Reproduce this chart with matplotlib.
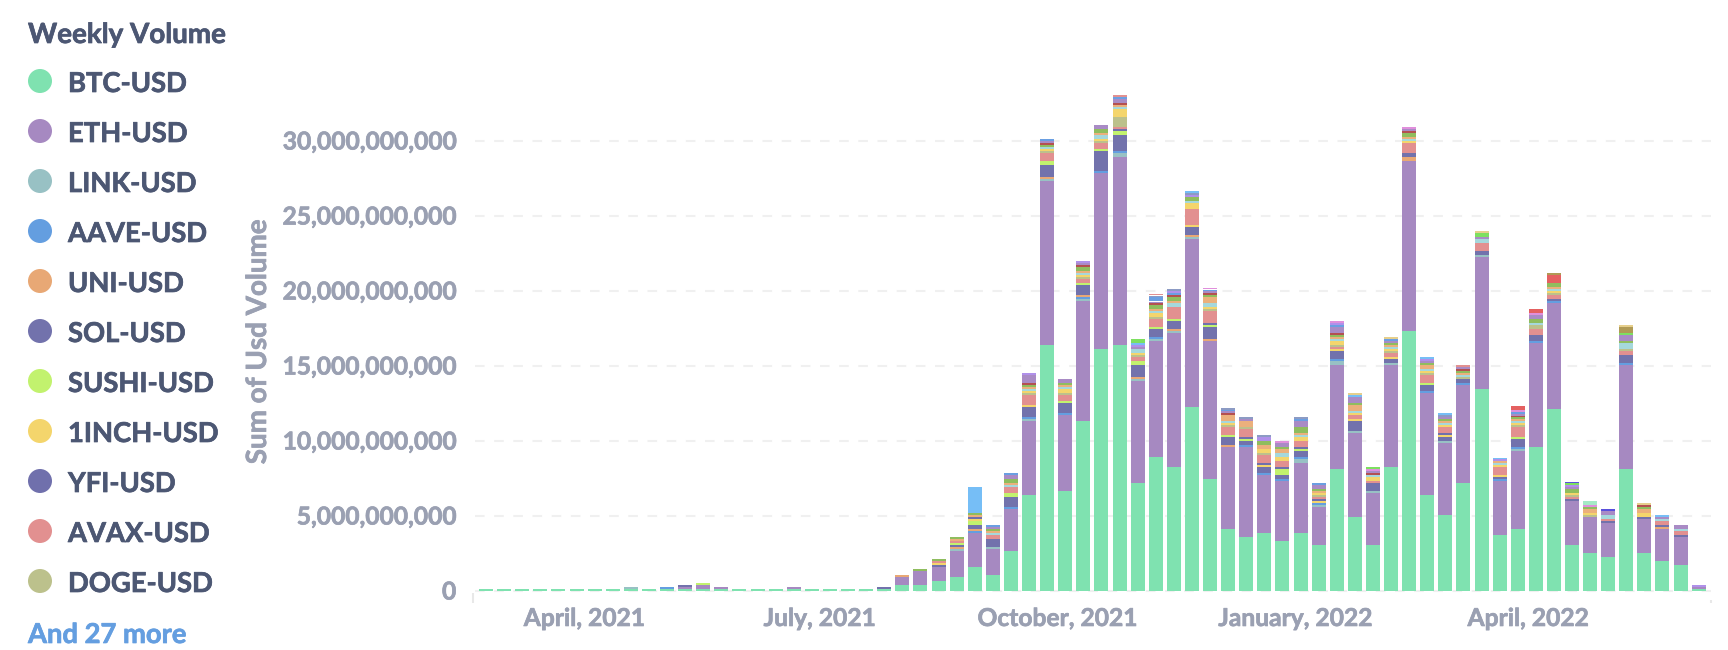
import matplotlib
matplotlib.use("Agg")
import matplotlib.pyplot as plt
import matplotlib.dates as mdates
import matplotlib.patheffects as pe
from matplotlib.transforms import ScaledTranslation
import pandas as pd
import numpy as np
from matplotlib.patches import Circle

plt.rcParams['font.family'] = ['Lato', 'DejaVu Sans']

W, H = 1728, 650
week_start = "2021-02-22"
n_weeks = 68

btc = [.13,.13,.13,.13,.13,.13,.13,.13,.13,.13,.13,.13,.13,.13,.13,.13,.13,.13,.13,.13,.13,.13,.13,
       .4,.4,.67,.93,1.6,1.07,2.67,6.4,16.4,6.67,11.33,16.13,16.4,7.2,8.93,8.27,12.27,7.47,4.13,3.6,3.87,3.33,
       3.87,3.07,8.13,4.93,3.07,8.27,17.33,6.4,5.07,7.2,13.47,3.73,4.13,9.6,12.13,3.07,2.53,2.27,8.13,2.53,2,1.73,.13]
eth = [0,0,0,0,0,0,0,0,0,0,0,.13,.27,.13,0,0,0,.13,0,0,0,0,0,
       .53,.93,.93,1.74,2.27,1.73,2.8,4.93,10.93,5.06,8.0,11.74,12.53,6.8,7.74,8.93,11.2,9.2,5.47,6.0,3.86,4.0,
       4.66,2.53,6.94,5.6,3.46,6.8,11.34,6.8,4.8,6.53,8.8,3.6,5.2,6.93,7.07,2.93,2.4,2.26,6.94,2.27,2.13,1.87,.13]

link = {8:.13,26:.13,28:.13,30:.13,31:.13,33:.13,35:.27,36:.13,37:.13,38:.13,39:.13,45:.27,46:.13,47:.27,48:.13,49:.13,50:.13,53:.13,55:.13,57:.13}
aave = {10:.13,27:.13,29:.13,30:.13,32:.13,33:.13,34:.13,35:.13,37:.13,42:.13,43:.13,44:.13,45:.13,46:.13,47:.13,52:.13,54:.13,56:.13,57:.13,58:.13,59:.13,63:.13}
uni = {23:.13,26:.13,27:.13,31:.13,33:.13,36:.13,38:.13,39:.13,40:.13,41:.13,51:.27,65:.13}
sol = {11:.13,22:.13,25:.13,26:.13,27:.27,28:.53,29:.67,30:.67,31:.8,32:.67,33:.67,34:1.33,35:1.07,36:.8,37:.53,38:.53,39:.53,40:.8,41:.53,42:.27,43:.4,44:.27,45:.4,47:.53,48:.67,49:.53,50:.27,51:.27,52:.4,53:.27,54:.27,55:.27,56:.13,57:.53,58:.4,59:.13,60:.13,62:.13,63:.53,64:.13,65:.13,66:.13}
sushi = {12:.13,26:.13,27:.27,29:.27,31:.27,32:.13,33:.13,34:.13,35:.27,36:.27,37:.13,38:.13,40:.13,41:.13,42:.13,44:.4,45:.13,52:.13,57:.13}
inch = {25:.13,27:.13,30:.13,39:.13,43:.13,46:.13,47:.13,48:.13,50:.13,53:.13,56:.13,64:.13}
yfi = {27:.13,35:.13,40:.13,42:.13,43:.13,44:.13,45:.13,46:.13,53:.13}
avax = {25:.13,26:.13,28:.27,29:.4,30:.67,31:.53,32:.4,33:.27,34:.4,35:.13,36:.27,37:.53,38:.8,39:1.07,40:.8,41:.53,42:.53,43:.53,44:.4,45:.4,46:.13,47:.13,48:.27,49:.13,50:.27,51:.67,52:.53,53:.4,55:.53,56:.53,57:.67,58:.4,59:.27,60:.13,62:.13,63:.27,65:.27,66:.27}
doge = {30:.13,31:.13,32:.13,33:.13,34:.13,35:.67,36:.13,37:.13,40:.13,41:.13,42:.13,43:.13,46:.13,47:.13,50:.13,52:.13,54:.13,57:.13,58:.27,59:.13,60:.13,61:.13,63:.13}
other_r = {30:.13,31:.13,32:.27,33:.13,34:.13,35:.53,36:.13,37:.27,39:.4,40:.13,41:.13,43:.27,44:.27,45:.27,46:.13,47:.27,48:.13,49:.27,50:.13,51:.13,52:.13,53:.13,56:.13,57:.13,59:.13,60:.13,61:.13,64:.13}
other_a = {28:.13,29:.13,30:.13,31:.13,32:.13,33:.13,34:.27,35:.13,36:.27,37:.13,38:.27,39:.13,40:.26,41:.13,44:.26,45:.13,47:.13,48:.13,49:.13,50:.13,51:.13,52:.13,53:.13,54:.13,55:.27,56:.13,57:.13,58:.13,59:.13,62:.27,63:.4,65:.13,66:.13}
other_b = {26:.13,27:.13,28:.13,29:.13,30:.13,32:.13,33:.13,34:.13,35:.13,37:.13,38:.13,40:.4,41:.4,42:.4,43:.27,44:.27,45:.13,46:.13,47:.13,48:.4,50:.13,51:.13,52:.27,53:.13,54:.13,56:.13,57:.13,59:.13,61:.27,64:.26}
other_c = {24:.13,25:.13,26:.13,27:.13,28:.13,29:.27,30:.13,31:.13,32:.13,33:.27,34:.26,37:.26,38:.27,39:.27,40:.13,43:.26,44:.13,45:.39,46:.13,47:.13,48:.13,50:.13,51:.26,52:.13,53:.13,54:.13,57:.13,58:.27,59:.27,60:.26,61:.13,63:.13,64:.13}
other_d = {30:.13,31:.13,33:.13,35:.13,37:.13,38:.13,40:.13,41:.13,47:.13,49:.13,51:.13,54:.13,57:.13,64:.13}
other_e = {28:.13,29:.27,30:.53,31:.13,32:.27,33:.13,34:.27,35:.27,36:.13,37:.13,40:.13,41:.13,42:.13,44:.27,45:.4,46:.27,47:.4,48:.4,49:.13,50:.13,51:.13,52:.13,53:.13,54:.13,55:.13,57:.13,58:.27,60:.13,62:.27,63:.4,65:.13,66:.27}
other_f = {28:.13,29:.13,31:.13,35:.13,37:.27,38:.13,40:.13,41:.13,45:.13,46:.13,47:.13,50:.13,57:.13}
other_g = {30:.13,33:.13,36:.13,38:.13,39:.13,43:.27,47:.13,52:.13,56:.13,60:.13,67:.13}
other_h = {37:.13,38:.13,39:.13,41:.13,42:.13,43:.13,45:.13,53:.13}
other_i = {27:1.73,36:.13,39:.13,48:.13,52:.13,53:.13,56:.13,65:.13}
other_j = {40:.13,44:.13,47:.13,49:.13,51:.13,57:.13,58:.13,61:.13}
other_k = {36:.27,49:.13,55:.27,60:.13,63:.13}
other_l = {57:.27,58:.27,59:.54}
other_m = {35:.13,37:.13,54:.13}
other_n = {60:.13,62:.13}
other_o = {61:.27}
other_p = {59:.13,63:.4}
other_q = {48:.13,50:.13,55:.13,63:.13,64:.13}

stack = [
    (btc, '#7FE2B0'), (eth, '#A689C1'), (link, '#98C1C4'), (aave, '#649EE0'),
    (uni, '#E8A875'), (sol, '#7272AC'), (sushi, '#C2F26E'), (inch, '#F4D56C'),
    (yfi, '#7070AC'), (avax, '#E29090'), (doge, '#BCC18C'), (other_r, '#F4D56C'),
    (other_a, '#A5D8DC'),
    (other_b, '#EBB07C'), (other_c, '#8FBD5E'), (other_d, '#B45050'),
    (other_e, '#A98BC5'), (other_f, '#6A9FE2'), (other_g, '#B090EA'),
    (other_h, '#8C9BC4'), (other_i, '#76BEF6'), (other_j, '#E08FDC'),
    (other_k, '#7DE060'), (other_l, '#E46060'), (other_m, '#E29090'),
    (other_n, '#5A50DC'), (other_o, '#A5EAC5'), (other_p, '#B09A55'),
    (other_q, '#E6CF8C'),
]

legend_names = ["BTC-USD", "ETH-USD", "LINK-USD", "AAVE-USD", "UNI-USD", "SOL-USD",
                "SUSHI-USD", "1INCH-USD", "YFI-USD", "AVAX-USD", "DOGE-USD"]
legend_colors = ['#7FE2B0', '#A689C1', '#98C1C4', '#649EE0', '#E8A875', '#7272AC',
                 '#C2F26E', '#F4D56C', '#7070AC', '#E29090', '#BCC18C']
legend_title = "Weekly Volume"
legend_more = "And 27 more"
y_title = "Sum of Usd Volume"
y_ticks = [0, 5e9, 10e9, 15e9, 20e9, 25e9, 30e9]
x_tick_dates = ["2021-04-01", "2021-07-01", "2021-10-01", "2022-01-01", "2022-04-01"]
x_tick_labels = ["April, 2021", "July, 2021", "October, 2021", "January, 2022", "April, 2022"]

dates = pd.date_range(week_start, periods=n_weeks, freq="7D")
xnum = mdates.date2num(dates)

fig = plt.figure(figsize=(W / 100, H / 100), dpi=100, facecolor='white')
px_left, px_right, px_base, px_top = 475, 1711, 591, 51
ax = fig.add_axes([px_left / W, (H - px_base) / H, (px_right - px_left) / W, (px_base - px_top) / H])
step_px = 18.1
x0 = xnum[0] - (486 - px_left) / step_px * 7
x1 = xnum[0] + (px_right - 486) / step_px * 7
ax.set_xlim(x0, x1)
ax.set_ylim(0, (px_base - px_top) / 15 * 1e9)

bottom = np.zeros(n_weeks)
for series, color in stack:
    if isinstance(series, dict):
        vals = np.array([series.get(i, 0.0) for i in range(n_weeks)])
    else:
        vals = np.array(series, dtype=float)
    vals = vals * 1e9
    mask = vals > 0
    ax.bar(xnum[mask], vals[mask], width=14 / step_px * 7, bottom=bottom[mask], color=color, linewidth=0, zorder=3)
    bottom += vals

for s in ax.spines.values():
    s.set_visible(False)
ax.patch.set_alpha(0)
ax.set_yticks(y_ticks)
ax.set_yticklabels(["0" if v == 0 else f"{int(v):,}" for v in y_ticks])
ax.set_xticks(mdates.date2num(pd.to_datetime(x_tick_dates)))
ax.set_xticklabels(x_tick_labels)
grey = '#9AA0B2'
ax.tick_params(axis='both', length=0, labelcolor=grey, labelsize=17.7)
ax.tick_params(axis='y', pad=13.5)
ax.tick_params(axis='x', pad=11.5)
up = ScaledTranslation(0, 1 / 100, fig.dpi_scale_trans)
thick = lambda c, w=0.5: [pe.withStroke(linewidth=w, foreground=c)]
for lab in ax.get_yticklabels():
    lab.set_fontweight('bold')
    lab.set_transform(lab.get_transform() + up)
    lab.set_path_effects(thick(grey))
for lab in ax.get_xticklabels():
    lab.set_fontweight('bold')
    lab.set_path_effects(thick(grey))
ax.set_axisbelow(True)
ax.grid(axis='y', color='#F0F0F0', linewidth=1.5, linestyle=(0, (4.6, 4.6)), zorder=0)
ax.grid(axis='x', visible=False)
for gl in ax.get_ygridlines():
    gl.set_clip_on(False)

fig.text(258 / W, 1 - 342 / H, y_title, rotation=90, ha='center', va='center',
         color=grey, fontsize=20, fontweight='bold', path_effects=thick(grey))

ov = fig.add_axes([0, 0, 1, 1])
ov.set_xlim(0, W)
ov.set_ylim(H, 0)
ov.axis('off')
ov.patch.set_alpha(0)
ink = '#4C5773'
ov.text(28, 35, legend_title, color=ink, fontsize=20, fontweight='bold', va='center', ha='left', path_effects=thick(ink))
for k, (name, col) in enumerate(zip(legend_names, legend_colors)):
    yc = 81 + 50 * k
    ov.add_patch(Circle((40, yc), 12, facecolor=col, edgecolor='none'))
    ov.text(68, yc + 3, name, color=ink, fontsize=19.7, fontweight='bold', va='center', ha='left', path_effects=thick(ink))
ov.text(28, 635, legend_more, color='#649EE0', fontsize=19.7, fontweight='bold', va='center', ha='left', path_effects=thick('#649EE0'))
ov.plot([473, 473], [593, 603], color='#E8E8E8', lw=1.5, solid_capstyle='butt')
ov.plot([1711, 1711], [600, 603], color='#E8E8E8', lw=1.5, solid_capstyle='butt')

fig.savefig('out.png', dpi=100, facecolor='white')
